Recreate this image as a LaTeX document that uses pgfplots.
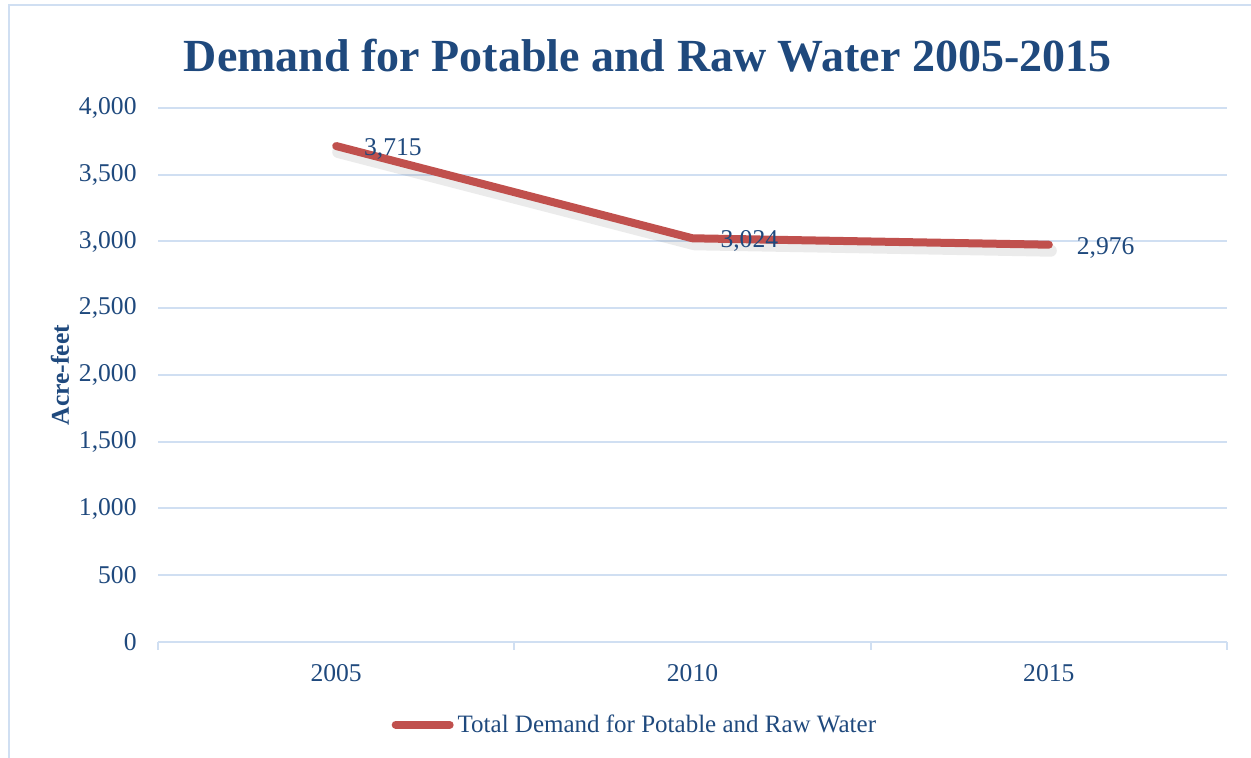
\documentclass[border=0pt]{standalone}
\usepackage{pgfplots}
\pgfplotsset{compat=1.18}
\usepackage{fontspec}
\setmainfont{Liberation Serif}
\definecolor{textblue}{HTML}{1F497D}
\definecolor{gridblue}{RGB}{208,223,242}
\definecolor{linered}{HTML}{C0504D}
\begin{document}
\begin{tikzpicture}
\path[use as bounding box] (0,0) rectangle (625.5pt,379pt);
\draw[gridblue, line width=1pt] (4.5pt,0) -- (4.5pt,376.5pt) -- (626pt,376.5pt);
\begin{axis}[
  at={(79pt,58pt)}, anchor=south west,
  scale only axis, width=534.5pt, height=267pt,
  xmin=-0.5, xmax=2.5, ymin=0, ymax=4000,
  axis x line*=bottom, axis y line*=left,
  y axis line style={draw=none},
  x axis line style={gridblue, line width=1pt, -},
  xtick={0,1,2}, xticklabels={2005,2010,2015},
  xtick style={draw=none},
  extra x ticks={-0.5,0.5,1.5,2.5}, extra x tick labels={},
  extra x tick style={xtick style={draw=gridblue, line width=1pt}, tick align=outside, major tick length=4pt},
  ytick={0,500,...,4000},
  ytick style={draw=none},
  ymajorgrids, grid style={gridblue, line width=1pt},
  /pgf/number format/.cd, 1000 sep={,}, assume math mode=true, /pgfplots/.cd,
  tick label style={font=\fontsize{12.8}{15}\selectfont, text=textblue},
  yticklabel style={anchor=east, inner sep=0pt, xshift=-10.5pt},
  xticklabel style={anchor=center, inner sep=0pt, yshift=-15.5pt},
  title={Demand for Potable and Raw Water 2005-2015},
  title style={at={(axis description cs:0.458,1.075)}, anchor=center, font=\fontsize{23}{28}\selectfont\bfseries, text=textblue},
  ylabel={Acre-feet},
  ylabel style={at={(axis description cs:-0.0917,0.5)}, anchor=center, font=\fontsize{12.8}{15}\selectfont\bfseries, text=textblue},
  legend style={at={(0.447,-0.155)}, anchor=center, draw=none, fill=none, font=\fontsize{12.5}{15}\selectfont, text=textblue},
  legend cell align=left,
  legend image code/.code={\draw[#1, line width=4pt, line cap=round] (0pt,0pt) -- (27pt,0pt);},
  clip=false,
]
\addplot[forget plot, black, opacity=0.08, line width=6pt, line cap=round, line join=round, shift={(1pt,-3pt)}] coordinates {(0,3715) (1,3024) (2,2976)};
\addplot[linered, line width=4pt, line cap=round, line join=round,
  nodes near coords,
  every node near coord/.append style={anchor=west, inner sep=0pt, xshift=12pt, yshift=-1.5pt, font=\fontsize{12.8}{15}\selectfont, text=textblue}]
  coordinates {(0,3715) (1,3024) (2,2976)};
\addlegendentry{Total Demand for Potable and Raw Water}
\end{axis}
\end{tikzpicture}
\end{document}
